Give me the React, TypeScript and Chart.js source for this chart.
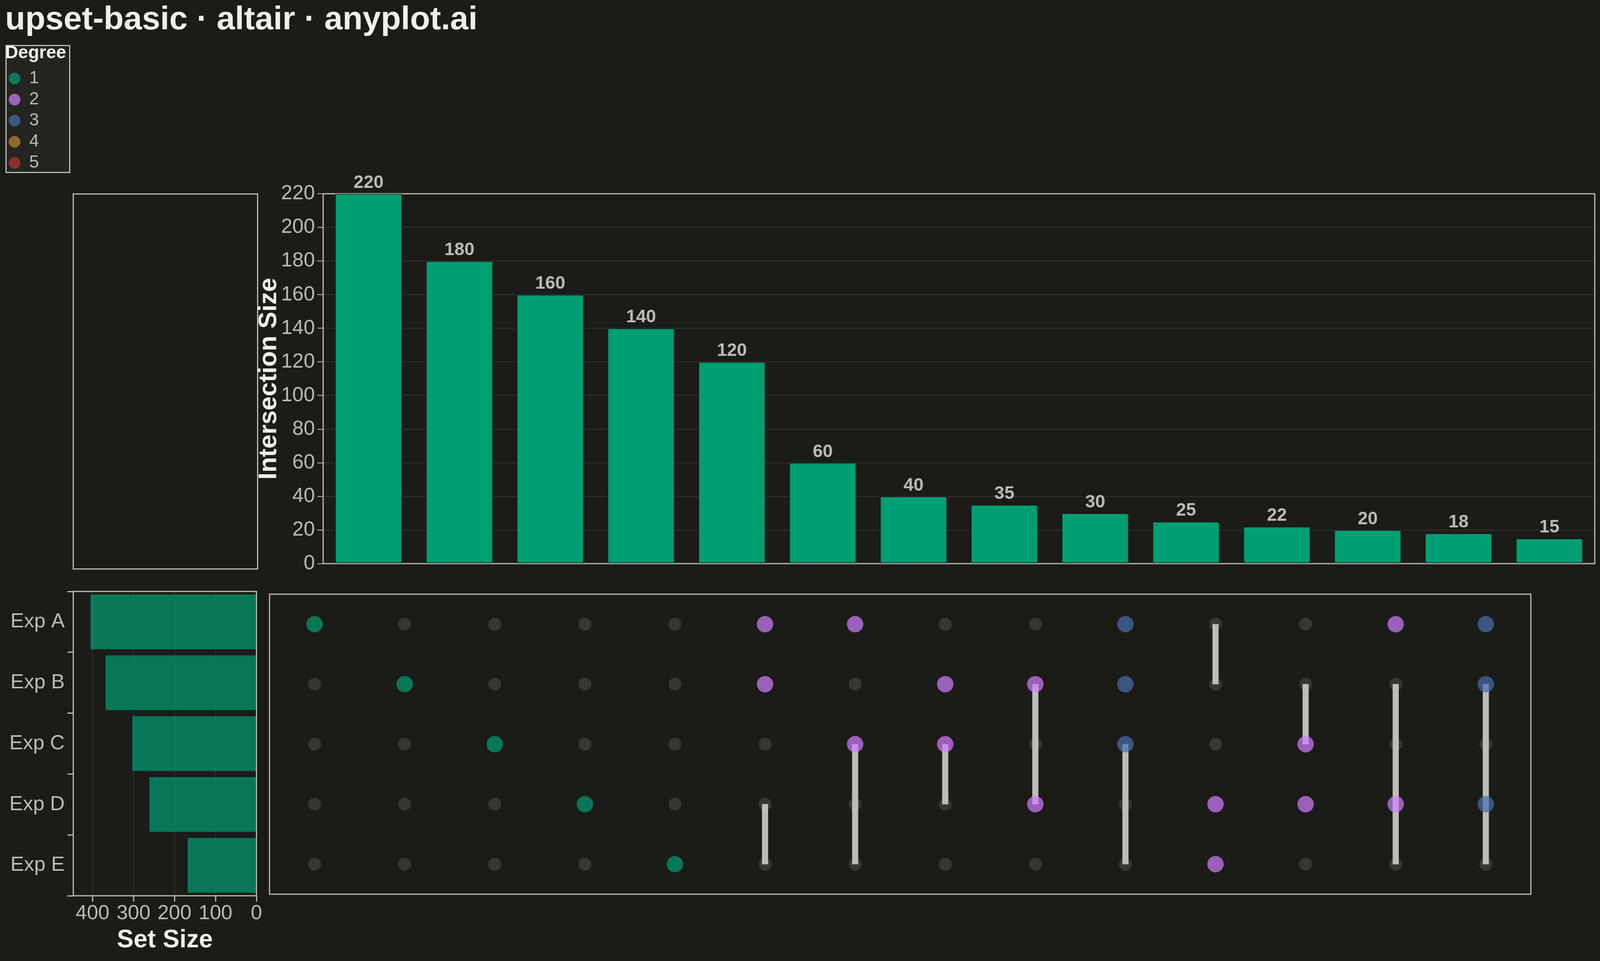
import React, { useEffect, useRef } from "react";
import { Chart, registerables } from "chart.js";

Chart.register(...registerables);
Chart.defaults.font.family = '"Liberation Sans", Arial, sans-serif';

// reference layout is 5208 x 2460; positions are mapped onto the real window size
const REF_W = 5208;
const REF_H = 2460;
const VW = typeof window !== "undefined" && window.innerWidth ? window.innerWidth : REF_W;
const VH = typeof window !== "undefined" && window.innerHeight ? window.innerHeight : REF_H;
const sx = VW / REF_W;
const sy = VH / REF_H;
const X = (v: number) => v * sx;
const Y = (v: number) => v * sy;

const BG = "#1b1b18";
const TEXT = "#f0efe8";
const MUTED = "#bcbcb4";
const GRID = "#32322f";
const FRAME = "#bdbdb5";
const DOT_OFF = "#363632";

// data
const intersectionIds = ["A", "B", "C", "D", "E", "A∩B", "A∩C", "B∩C", "B∩D", "A∩B∩C", "D∩E", "C∩D", "A∩D", "A∩B∩D"];
const intersectionSizes = [220, 180, 160, 140, 120, 60, 40, 35, 30, 25, 22, 20, 18, 15];
const memberSets = [[0], [1], [2], [3], [4], [0, 1], [0, 2], [1, 2], [1, 3], [0, 1, 2], [3, 4], [2, 3], [0, 3], [0, 1, 3]];
// connector rules as drawn in the source (row index from / to)
const connectorStart = [null, null, null, null, null, 3, 2, 2, 1, 2, 0, 1, 1, 1];
const connectorEnd = [null, null, null, null, null, 4, 4, 3, 3, 4, 1, 2, 4, 4];

const setNames = ["Exp A", "Exp B", "Exp C", "Exp D", "Exp E"];
const setSizes = [405, 368, 303, 261, 168];

const degreeLabels = ["1", "2", "3", "4", "5"];
const degreeColors = [
  "rgba(0,158,115,0.7)",
  "rgba(209,126,255,0.7)",
  "rgba(71,110,173,0.7)",
  "rgba(193,133,58,0.7)",
  "rgba(186,51,50,0.7)",
];

const framePlugin = {
  id: "frame",
  beforeDatasetsDraw(chart: any) {
    const { ctx, chartArea: a } = chart;
    ctx.save();
    ctx.strokeStyle = FRAME;
    ctx.lineWidth = 3;
    ctx.strokeRect(a.left, a.top, a.right - a.left, a.bottom - a.top);
    ctx.restore();
  },
};

const valueLabels = {
  id: "valueLabels",
  afterDatasetsDraw(chart: any) {
    const ctx = chart.ctx;
    const values = chart.data.datasets[0].data;
    ctx.save();
    ctx.font = 'bold 46px "Liberation Sans", Arial, sans-serif';
    ctx.fillStyle = MUTED;
    ctx.textAlign = "center";
    ctx.textBaseline = "alphabetic";
    chart.getDatasetMeta(0).data.forEach((el: any, i: number) => {
      ctx.fillText(String(values[i]), el.x, el.y - 15);
    });
    ctx.restore();
  },
};

// the legend clips to its own box, which is sized by the items only: widen it for the title
const legendWidth = {
  id: "legendWidth",
  afterLayout(chart: any) {
    const l = chart.legend;
    if (l) {
      l.width = 170;
      l.right = l.left + 170;
    }
  },
};

function useChart(config: () => any) {
  const ref = useRef<HTMLCanvasElement>(null);
  useEffect(() => {
    const chart = new Chart(ref.current as HTMLCanvasElement, config());
    return () => chart.destroy();
  }, []);
  return ref;
}

const abs = (left: number, top: number, width: number, height: number): React.CSSProperties => ({
  position: "absolute",
  left,
  top,
  width,
  height,
});

function TitleAndLegend() {
  const h = Y(460);
  const ref = useChart(() => ({
    type: "scatter",
    data: { datasets: [] },
    options: {
      responsive: false,
      animation: false,
      layout: { padding: { left: X(17) } },
      scales: { x: { display: false }, y: { display: false } },
      plugins: {
        tooltip: { enabled: false },
        title: {
          display: true,
          text: "upset-basic · altair · anyplot.ai",
          align: "start",
          color: TEXT,
          font: { size: 84, weight: "bold" },
          padding: { top: Y(1.5), bottom: Y(113) - 102.3 },
        },
        legend: {
          display: true,
          position: "left",
          align: "start",
          fullSize: false,
          title: {
            display: true,
            text: "Degree",
            position: "start",
            color: TEXT,
            font: { size: 46, weight: "bold" },
            padding: { top: 0, bottom: 1.3 },
          },
          labels: {
            usePointStyle: true,
            boxWidth: 30,
            boxHeight: 21.2,
            padding: 9,
            color: MUTED,
            font: { size: 45 },
            generateLabels: () =>
              degreeLabels.map((t, i) => ({
                text: t,
                fillStyle: degreeColors[i],
                strokeStyle: "transparent",
                lineWidth: 0,
                pointStyle: "circle",
                fontColor: MUTED,
                hidden: false,
                datasetIndex: i,
              })),
          },
        },
      },
    },
    plugins: [legendWidth],
  }));
  return (
    <>
      <div style={{ ...abs(X(18), Y(115), 166, 328), boxSizing: "border-box", border: `3px solid ${FRAME}`, background: "#242421" }} />
      <canvas ref={ref} width={1300} height={h} style={abs(0, 0, 1300, h)} />
    </>
  );
}

function IntersectionBars() {
  const left = X(800);
  const top = Y(400);
  const w = VW - left;
  const h = Y(1480) - top;
  const areaLeft = X(1052);
  // keep the rotated title clear of the tick labels when the layout is narrower
  const titleCenter = Math.min(X(893), areaLeft - 138);
  const ref = useChart(() => ({
    type: "bar",
    data: {
      labels: intersectionIds,
      datasets: [
        {
          data: intersectionSizes,
          backgroundColor: "#009E73",
          borderColor: "rgba(27,27,24,0.7)",
          borderWidth: 2,
          borderSkipped: false,
          barPercentage: 0.74,
          categoryPercentage: 1,
        },
      ],
    },
    options: {
      responsive: false,
      animation: false,
      layout: { padding: { top: Y(496) - top, right: VW - X(5191), bottom: Y(1480) - Y(1456), left: 0 } },
      plugins: { legend: { display: false }, tooltip: { enabled: false } },
      scales: {
        x: { display: false },
        y: {
          min: 0,
          max: 220,
          ticks: { stepSize: 20, color: MUTED, font: { size: 52 }, padding: 6 },
          grid: { color: GRID, lineWidth: 2, tickColor: FRAME, tickLength: 15, tickWidth: 2 },
          border: { display: false },
          title: {
            display: true,
            text: "Intersection Size",
            color: TEXT,
            font: { size: 65, weight: "bold" },
            padding: { top: titleCenter - left - 39, bottom: 0 },
          },
          afterFit: (s: any) => {
            s.width = areaLeft - left;
          },
        },
      },
    },
    plugins: [framePlugin, valueLabels],
  }));
  return <canvas ref={ref} width={w} height={h} style={abs(left, top, w, h)} />;
}

function SetSizeBars() {
  const top = Y(1470);
  const w = X(860);
  const h = VH - top;
  const ref = useChart(() => ({
    type: "bar",
    data: {
      labels: setNames,
      datasets: [
        {
          data: setSizes,
          backgroundColor: "rgba(0,158,115,0.7)",
          borderWidth: 0,
          barPercentage: 0.9,
          categoryPercentage: 1,
        },
      ],
    },
    options: {
      indexAxis: "y",
      responsive: false,
      animation: false,
      layout: { padding: { top: Y(1514) - top, right: w - X(838), bottom: 0, left: 0 } },
      plugins: { legend: { display: false }, tooltip: { enabled: false } },
      scales: {
        x: {
          min: 0,
          max: 447,
          reverse: true,
          ticks: { stepSize: 100, includeBounds: false, color: MUTED, font: { size: 52, lineHeight: 1 }, padding: 5 },
          grid: { color: GRID, lineWidth: 2, tickColor: FRAME, tickLength: 15, tickWidth: 3 },
          border: { display: false },
          title: {
            display: true,
            text: "Set Size",
            color: TEXT,
            font: { size: 64, weight: "bold" },
            padding: { top: 0, bottom: 14 },
          },
          afterFit: (s: any) => {
            s.height = VH - Y(2293);
          },
        },
        y: {
          ticks: { color: MUTED, font: { size: 52 }, padding: 7 },
          grid: { drawOnChartArea: false, tickColor: FRAME, tickLength: 15, tickWidth: 3 },
          border: { display: false },
          afterFit: (s: any) => {
            s.width = X(238.5);
          },
        },
      },
    },
    plugins: [framePlugin],
  }));
  return <canvas ref={ref} width={w} height={h} style={abs(0, top, w, h)} />;
}

function MatrixChart() {
  const left = X(850);
  const top = Y(1500);
  const w = X(5010) - left;
  const h = Y(2310) - top;
  const ref = useChart(() => {
    const inactive: any[] = [];
    const active: any[] = [];
    const activeColors: string[] = [];
    intersectionIds.forEach((id, col) => {
      setNames.forEach((_, row) => {
        if (memberSets[col].includes(row)) {
          active.push({ x: id, y: row });
          activeColors.push(degreeColors[memberSets[col].length - 1]);
        } else {
          inactive.push({ x: id, y: row });
        }
      });
    });
    return {
      type: "bar",
      data: {
        labels: intersectionIds,
        datasets: [
          {
            type: "scatter",
            data: inactive,
            pointRadius: 16.5,
            pointBackgroundColor: DOT_OFF,
            pointBorderWidth: 0,
            order: 3,
          },
          {
            type: "bar",
            data: connectorStart.map((s, i) => (s === null ? null : [s, connectorEnd[i]])),
            backgroundColor: FRAME,
            borderWidth: 0,
            barThickness: 15,
            order: 2,
          },
          {
            type: "scatter",
            data: active,
            pointRadius: 21,
            pointBackgroundColor: activeColors,
            pointBorderWidth: 0,
            order: 1,
          },
        ],
      },
      options: {
        responsive: false,
        animation: false,
        layout: {
          padding: {
            top: Y(1513) - top,
            right: X(5010) - X(4999),
            bottom: Y(2310) - Y(2293),
            left: X(859) - left,
          },
        },
        plugins: { legend: { display: false }, tooltip: { enabled: false } },
        scales: {
          x: { type: "category", display: false, offset: true },
          y: { type: "linear", display: false, min: -0.5, max: 4.5, reverse: true },
        },
      },
      plugins: [framePlugin],
    };
  });
  return <canvas ref={ref} width={w} height={h} style={abs(left, top, w, h)} />;
}

export default function App() {
  useEffect(() => {
    document.body.style.margin = "0";
    document.body.style.background = BG;
    document.documentElement.style.overflow = "hidden";
  }, []);
  const boxL = X(238.5) - 1.5;
  const boxT = Y(496) - 1.5;
  return (
    <div style={{ ...abs(0, 0, VW, VH), overflow: "hidden", background: BG }}>
      <TitleAndLegend />
      <div
        style={{
          ...abs(boxL, boxT, X(839) + 1.5 - boxL, Y(1456) + 1.5 - boxT),
          boxSizing: "border-box",
          border: `3px solid ${FRAME}`,
        }}
      />
      <IntersectionBars />
      <SetSizeBars />
      <MatrixChart />
    </div>
  );
}
